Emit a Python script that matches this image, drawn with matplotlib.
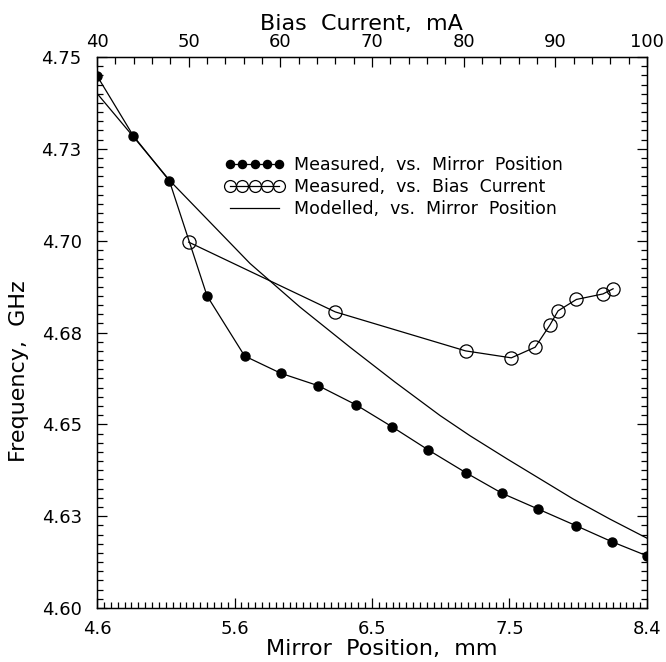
import numpy as np
import matplotlib
matplotlib.use("Agg")
import matplotlib.pyplot as plt
from matplotlib.ticker import MultipleLocator, AutoMinorLocator

# measured frequency vs mirror position (bottom axis, mm)
mirror_pos = [4.60, 4.85, 5.10, 5.36, 5.62, 5.87, 6.13, 6.39, 6.64, 6.89,
              7.15, 7.40, 7.65, 7.91, 8.16, 8.40]
freq_mirror = [4.7449, 4.7286, 4.7163, 4.6850, 4.6686, 4.6639, 4.6605, 4.6553,
               4.6493, 4.6430, 4.6368, 4.6312, 4.6269, 4.6224, 4.6180, 4.6142]

# measured frequency vs bias current (top axis, mA)
bias_current = [50.0, 66.0, 80.2, 85.2, 87.8, 89.4, 90.3, 92.3, 95.2, 96.3]
freq_bias = [4.6996, 4.6806, 4.6700, 4.6681, 4.6710, 4.6770, 4.6809, 4.6840,
             4.6855, 4.6869]

# modelled curve vs mirror position
model_pos = [4.600, 4.849, 5.104, 5.657, 6.003, 6.348, 6.659, 6.970, 7.177,
             7.433, 7.889, 8.144, 8.400]
model_freq = [4.7401, 4.7284, 4.7163, 4.6938, 4.6819, 4.6710, 4.6615, 4.6524,
              4.6469, 4.6406, 4.6297, 4.6242, 4.6190]

xtick_labels = ["4.6", "5.6", "6.5", "7.5", "8.4"]
ytick_labels = ["4.60", "4.63", "4.65", "4.68", "4.70", "4.73", "4.75"]
top_ticks = [40, 50, 60, 70, 80, 90, 100]

plt.rcParams["font.family"] = "DejaVu Sans"

fig = plt.figure(figsize=(6.66, 6.62), dpi=100)
ax = fig.add_axes([97 / 666, 1 - 608 / 662, 550 / 666, 551 / 662])

ax.plot(mirror_pos, freq_mirror, "-o", color="black", lw=0.9, ms=6.5,
        label="Measured,  vs.  Mirror  Position")
ax.plot(model_pos, model_freq, "-", color="black", lw=0.9,
        label="Modelled,  vs.  Mirror  Position")

ax.set_xlim(4.6, 8.4)
ax.set_ylim(4.60, 4.75)
ax.set_xticks(np.linspace(4.6, 8.4, 5))
ax.set_xticklabels(xtick_labels)
ax.xaxis.set_minor_locator(AutoMinorLocator(20))
ax.set_yticks(np.linspace(4.60, 4.75, 7))
ax.set_yticklabels(ytick_labels)
ax.yaxis.set_minor_locator(AutoMinorLocator(10))
ax.tick_params(which="both", direction="in", right=True, labelsize=13, width=0.9)
ax.tick_params(axis="y", which="major", length=7, pad=11)
ax.tick_params(axis="x", which="major", length=7, pad=9)
ax.tick_params(which="minor", length=4)
ax.set_xlabel("Mirror  Position,  mm", fontsize=16)
ax.set_ylabel("Frequency,  GHz", fontsize=16)
ax.yaxis.set_label_coords(-0.124, 0.43)
ax.xaxis.set_label_coords(0.517, -0.056)
for s in ax.spines.values():
    s.set_linewidth(1.0)

# top axis for bias current
ax2 = ax.twiny()
ax2.plot(bias_current, freq_bias, "-o", color="black", mfc="none", lw=0.9,
         ms=9.5, mew=0.9, label="Measured,  vs.  Bias  Current")
ax2.set_xlim(40, 100)
ax2.set_xticks(top_ticks)
ax2.xaxis.set_minor_locator(MultipleLocator(2))
ax2.tick_params(which="both", direction="in", labelsize=13, width=0.9, pad=4)
ax2.tick_params(which="major", length=7)
ax2.tick_params(which="minor", length=5)
ax2.set_xlabel("Bias  Current,  mA", fontsize=16)
ax2.xaxis.set_label_coords(0.48, 1.049)

h1, l1 = ax.get_legend_handles_labels()
h2, l2 = ax2.get_legend_handles_labels()
handles = [h1[0], h2[0], h1[1]]
labels = [l1[0], l2[0], l1[1]]
ax2.legend(handles, labels, loc="center left",
           bbox_to_anchor=((225 - 97) / 550, 1 - (187 - 57) / 551),
           frameon=False, numpoints=5, handlelength=3.4, handletextpad=0.6,
           borderpad=0, borderaxespad=0, labelspacing=0.25, fontsize=12.5,
           markerscale=0.9)

fig.savefig("out.png", dpi=100)
